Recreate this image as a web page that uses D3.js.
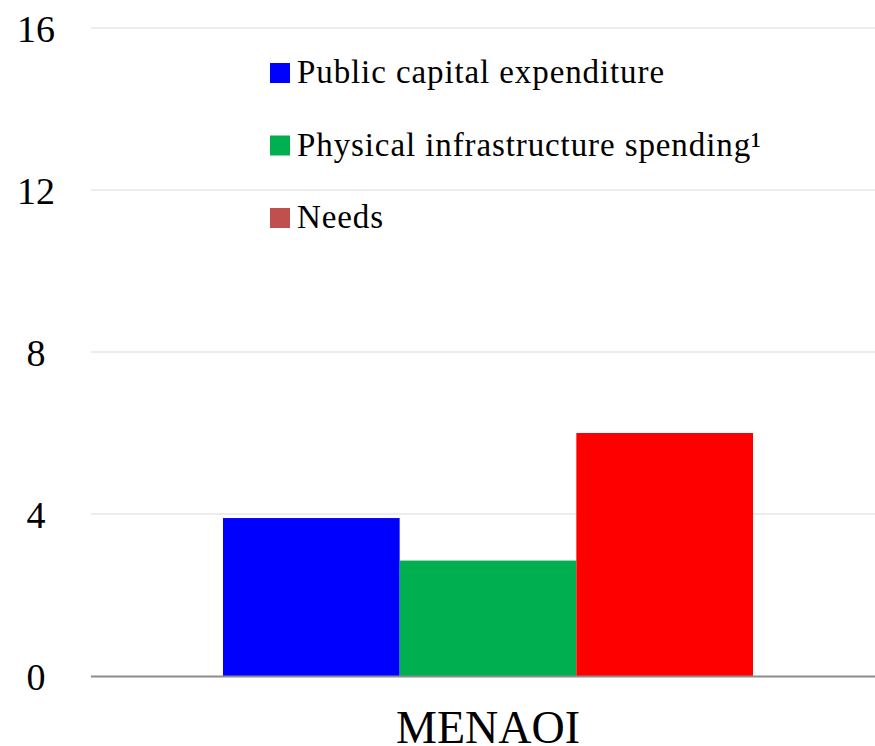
<!DOCTYPE html>
<html>
<head>
<meta charset="utf-8">
<script src="https://cdn.jsdelivr.net/npm/d3@7"></script>
<style>
  html, body { margin: 0; padding: 0; background: #ffffff; }
  svg text { font-family: 'Liberation Serif', 'Times New Roman', serif; }
</style>
</head>
<body>
<svg id="chart" width="875" height="746"></svg>
<script>
// Categories, series and values
const categories = ["MENAOI"];
const seriesNames = ["Public capital expenditure", "Physical infrastructure spending", "Needs"];
const seriesValues = [3.9, 2.85, 6.0];
const barColors = ["#0000FF", "#00B050", "#FF0000"];
const legendColors = ["#0000FF", "#00B050", "#C0504D"];
const yTicks = [0, 4, 8, 12, 16];

const FONT = "'Liberation Serif', 'Times New Roman', serif";
const svg = d3.select("#chart");
const W = 875, H = 746;
const margin = { left: 91, right: -10, top: 28, bottom: 70 };

const y = d3.scaleLinear().domain([0, 16]).range([676, 28]);

const x0 = d3.scaleBand()
  .domain(categories)
  .range([margin.left, W - margin.right])
  .paddingOuter(0.249)
  .paddingInner(0);

const x1 = d3.scaleBand()
  .domain(seriesNames)
  .range([0, x0.bandwidth()])
  .padding(0);

// Gridlines
svg.append("g")
  .selectAll("line")
  .data(yTicks.filter(d => d !== 0))
  .join("line")
  .attr("x1", margin.left)
  .attr("x2", W)
  .attr("y1", d => y(d))
  .attr("y2", d => y(d))
  .attr("stroke", "#d9d9d9")
  .attr("stroke-width", 1);

// Y tick labels
const yAxis = d3.axisLeft(y).tickValues(yTicks).tickSize(0).tickFormat(d3.format("d"));
const gy = svg.append("g").attr("transform", "translate(36,0)").call(yAxis);
gy.attr("font-family", null).attr("font-size", null);
gy.select(".domain").remove();
gy.selectAll("text")
  .attr("x", 0)
  .attr("dy", "0.35em")
  .attr("text-anchor", "middle")
  .style("font-family", FONT)
  .style("font-size", "38px")
  .attr("fill", "#000");

// Bars
const groups = svg.append("g")
  .selectAll("g")
  .data(categories)
  .join("g")
  .attr("transform", d => `translate(${x0(d)},0)`);

groups.selectAll("rect")
  .data(() => seriesNames.map((s, i) => ({ s, v: seriesValues[i], c: barColors[i] })))
  .join("rect")
  .attr("x", d => x1(d.s))
  .attr("width", x1.bandwidth())
  .attr("y", d => y(d.v))
  .attr("height", d => y(0) - y(d.v))
  .attr("fill", d => d.c);

// Baseline axis
svg.append("line")
  .attr("x1", margin.left)
  .attr("x2", W)
  .attr("y1", y(0) + 0.5)
  .attr("y2", y(0) + 0.5)
  .attr("stroke", "#8c8c8c")
  .attr("stroke-width", 2);

// Category label
const xAxis = d3.axisBottom(x0).tickSize(0);
const gx = svg.append("g").attr("transform", `translate(0,${y(0)})`).call(xAxis);
gx.attr("font-family", null).attr("font-size", null);
gx.select(".domain").remove();
gx.selectAll("text")
  .attr("y", 67)
  .attr("dy", 0)
  .style("font-family", FONT)
  .style("font-size", "46px")
  .attr("fill", "#000");

// Legend
const legend = svg.append("g").attr("transform", "translate(270,73)");
const items = legend.selectAll("g")
  .data(seriesNames)
  .join("g")
  .attr("transform", (d, i) => `translate(0,${i * 72.5})`);

items.append("rect")
  .attr("x", 0)
  .attr("y", -10)
  .attr("width", 20)
  .attr("height", 20)
  .attr("fill", (d, i) => legendColors[i]);

const labels = items.append("text")
  .attr("x", 27)
  .attr("y", 10)
  .style("font-family", FONT)
  .style("font-size", "33px")
  .style("letter-spacing", "0.9px")
  .attr("fill", "#000")
  .text(d => d);

labels.filter((d, i) => i === 1)
  .append("tspan")
  .text("¹");
</script>
</body>
</html>
